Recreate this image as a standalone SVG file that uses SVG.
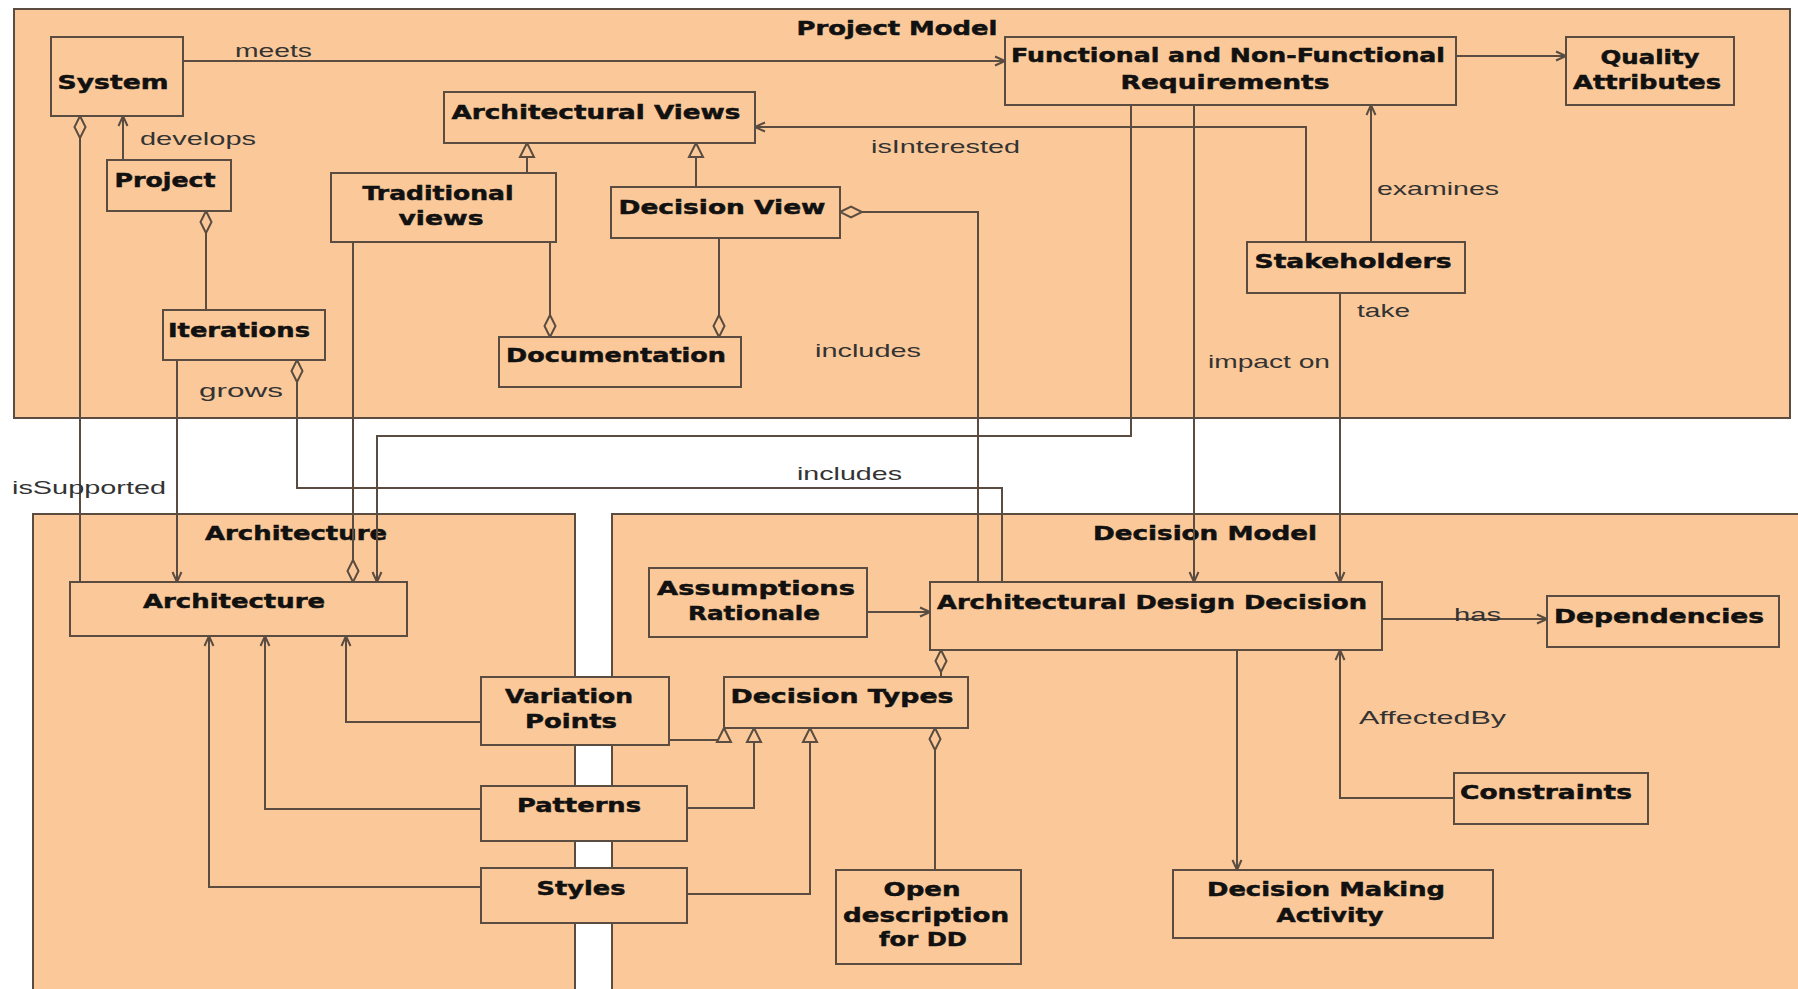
<svg xmlns="http://www.w3.org/2000/svg" width="1798" height="989" viewBox="0 0 1798 989">
  <defs>
    <style>
      .pkg { fill: #fbc999; stroke: #5a4c40; stroke-width: 2; }
      .box { fill: #fbc999; stroke: #5a4c40; stroke-width: 2; }
      .ttl { font-family: "DejaVu Sans", Verdana, sans-serif; font-weight: bold; font-size: 20px; fill: #111; stroke: #111; stroke-width: 0.5; text-anchor: middle; }
      .nm { font-family: "DejaVu Sans", Verdana, sans-serif; font-weight: bold; font-size: 20px; fill: #111; stroke: #111; stroke-width: 0.5; text-anchor: middle; }
      .lbl { font-family: "Liberation Sans", Arial, sans-serif; font-size: 19px; fill: #333; }
      .ln { fill: none; stroke: #5a4c40; stroke-width: 2; }
      .arr { marker-end: url(#open); }
      .agg { marker-start: url(#diamond); }
      .gen { marker-end: url(#tri); }
    </style>
    <marker id="open" markerUnits="userSpaceOnUse" markerWidth="14" markerHeight="14" viewBox="-1 -7 12 14" refX="10" refY="0" orient="auto">
      <path d="M0,-4.5 L10,0 L0,4.5" fill="none" stroke="#5a4c40" stroke-width="2"/>
    </marker>
    <marker id="diamond" markerUnits="userSpaceOnUse" markerWidth="26" markerHeight="14" viewBox="-1 -7 26 14" refX="0" refY="0" orient="auto">
      <path d="M0,0 L11,-5.5 L22,0 L11,5.5 Z" fill="#fbc999" stroke="#5a4c40" stroke-width="2"/>
    </marker>
    <marker id="tri" markerUnits="userSpaceOnUse" markerWidth="18" markerHeight="18" viewBox="-1 -9 17 18" refX="14" refY="0" orient="auto">
      <path d="M0,-7 L14,0 L0,7 Z" fill="#fbc999" stroke="#5a4c40" stroke-width="2"/>
    </marker>
  </defs>

  <rect width="1798" height="989" fill="#ffffff"/>

  <!-- packages -->
  <g id="pkg-project-model">
    <rect class="pkg" x="14" y="9" width="1776" height="409"/>
    <text class="ttl" x="897" y="35" textLength="201" lengthAdjust="spacingAndGlyphs">Project Model</text>
  </g>
  <g id="pkg-architecture">
    <rect class="pkg" x="33" y="514" width="542" height="500"/>
    <text class="ttl" x="296" y="540" textLength="182" lengthAdjust="spacingAndGlyphs">Architecture</text>
  </g>
  <g id="pkg-decision-model">
    <rect class="pkg" x="612" y="514" width="1200" height="500"/>
    <text class="ttl" x="1205" y="540" textLength="224" lengthAdjust="spacingAndGlyphs">Decision Model</text>
  </g>

  <!-- connectors -->
  <g id="connectors">
    <path class="ln arr" d="M183,61 H1005"/>
    <path class="ln arr" d="M1456,56 H1566"/>
    <path class="ln arr" d="M123,160 V116"/>
    <path class="ln agg" d="M80,116 V582"/>
    <path class="ln agg" d="M206,211 V310"/>
    <path class="ln arr" d="M177,360 V582"/>
    <path class="ln agg" d="M297,360 V488 H1002 V582"/>
    <path class="ln gen" d="M527,173 V143"/>
    <path class="ln gen" d="M696,187 V143"/>
    <path class="ln agg" d="M550,337 V242"/>
    <path class="ln agg" d="M719,337 V238"/>
    <path class="ln agg" d="M353,582 V242"/>
    <path class="ln agg" d="M840,212 H978 V582"/>
    <path class="ln arr" d="M1306,242 V127 H755"/>
    <path class="ln arr" d="M1371,242 V105"/>
    <path class="ln arr" d="M1340,293 V582"/>
    <path class="ln arr" d="M1194,105 V582"/>
    <path class="ln arr" d="M1131,105 V436 H377 V582"/>
    <path class="ln arr" d="M481,722 H346 V636"/>
    <path class="ln arr" d="M481,809 H265 V636"/>
    <path class="ln arr" d="M481,887 H209 V636"/>
    <path class="ln gen" d="M669,740 H724 V728"/>
    <path class="ln gen" d="M687,808 H754 V728"/>
    <path class="ln gen" d="M687,894 H810 V728"/>
    <path class="ln agg" d="M941,650 V677"/>
    <path class="ln agg" d="M935,728 V870"/>
    <path class="ln arr" d="M867,612 H930"/>
    <path class="ln arr" d="M1382,619 H1547"/>
    <path class="ln arr" d="M1237,650 V870"/>
    <path class="ln arr" d="M1454,798 H1340 V650"/>

    <text class="lbl" x="235" y="57" textLength="77" lengthAdjust="spacingAndGlyphs">meets</text>
    <text class="lbl" x="140" y="145" textLength="116" lengthAdjust="spacingAndGlyphs">develops</text>
    <text class="lbl" x="12" y="494" textLength="154" lengthAdjust="spacingAndGlyphs">isSupported</text>
    <text class="lbl" x="199" y="397" textLength="84" lengthAdjust="spacingAndGlyphs">grows</text>
    <text class="lbl" x="871" y="153" textLength="149" lengthAdjust="spacingAndGlyphs">isInterested</text>
    <text class="lbl" x="815" y="357" textLength="106" lengthAdjust="spacingAndGlyphs">includes</text>
    <text class="lbl" x="797" y="480" textLength="105" lengthAdjust="spacingAndGlyphs">includes</text>
    <text class="lbl" x="1377" y="195" textLength="122" lengthAdjust="spacingAndGlyphs">examines</text>
    <text class="lbl" x="1357" y="317" textLength="53" lengthAdjust="spacingAndGlyphs">take</text>
    <text class="lbl" x="1208" y="368" textLength="122" lengthAdjust="spacingAndGlyphs">impact on</text>
    <text class="lbl" x="1454" y="621" textLength="47" lengthAdjust="spacingAndGlyphs">has</text>
    <text class="lbl" x="1359" y="724" textLength="147" lengthAdjust="spacingAndGlyphs">AffectedBy</text>
  </g>

  <!-- project model nodes -->
  <g id="system">
    <rect class="box" x="51" y="37" width="132" height="79"/>
    <text class="nm" x="113" y="89" textLength="111" lengthAdjust="spacingAndGlyphs">System</text>
  </g>
  <g id="project">
    <rect class="box" x="107" y="160" width="124" height="51"/>
    <text class="nm" x="165" y="187" textLength="101" lengthAdjust="spacingAndGlyphs">Project</text>
  </g>
  <g id="iterations">
    <rect class="box" x="163" y="310" width="162" height="50"/>
    <text class="nm" x="239" y="337" textLength="142" lengthAdjust="spacingAndGlyphs">Iterations</text>
  </g>
  <g id="architectural-views">
    <rect class="box" x="444" y="92" width="311" height="51"/>
    <text class="nm" x="596" y="119" textLength="289" lengthAdjust="spacingAndGlyphs">Architectural Views</text>
  </g>
  <g id="traditional-views">
    <rect class="box" x="331" y="173" width="225" height="69"/>
    <text class="nm" x="438" y="200" textLength="151" lengthAdjust="spacingAndGlyphs">Traditional</text>
    <text class="nm" x="441" y="225" textLength="85" lengthAdjust="spacingAndGlyphs">views</text>
  </g>
  <g id="decision-view">
    <rect class="box" x="611" y="187" width="229" height="51"/>
    <text class="nm" x="722" y="214" textLength="207" lengthAdjust="spacingAndGlyphs">Decision View</text>
  </g>
  <g id="documentation">
    <rect class="box" x="499" y="337" width="242" height="50"/>
    <text class="nm" x="616" y="362" textLength="220" lengthAdjust="spacingAndGlyphs">Documentation</text>
  </g>
  <g id="requirements">
    <rect class="box" x="1005" y="37" width="451" height="68"/>
    <text class="nm" x="1228" y="62" textLength="434" lengthAdjust="spacingAndGlyphs">Functional and Non-Functional</text>
    <text class="nm" x="1225" y="89" textLength="209" lengthAdjust="spacingAndGlyphs">Requirements</text>
  </g>
  <g id="quality-attributes">
    <rect class="box" x="1566" y="37" width="168" height="68"/>
    <text class="nm" x="1650" y="64" textLength="99" lengthAdjust="spacingAndGlyphs">Quality</text>
    <text class="nm" x="1647" y="89" textLength="148" lengthAdjust="spacingAndGlyphs">Attributes</text>
  </g>
  <g id="stakeholders">
    <rect class="box" x="1247" y="242" width="218" height="51"/>
    <text class="nm" x="1353" y="268" textLength="197" lengthAdjust="spacingAndGlyphs">Stakeholders</text>
  </g>

  <!-- architecture nodes -->
  <g id="architecture">
    <rect class="box" x="70" y="582" width="337" height="54"/>
    <text class="nm" x="234" y="608" textLength="182" lengthAdjust="spacingAndGlyphs">Architecture</text>
  </g>
  <g id="variation-points">
    <rect class="box" x="481" y="677" width="188" height="68"/>
    <text class="nm" x="569" y="703" textLength="128" lengthAdjust="spacingAndGlyphs">Variation</text>
    <text class="nm" x="571" y="728" textLength="92" lengthAdjust="spacingAndGlyphs">Points</text>
  </g>
  <g id="patterns">
    <rect class="box" x="481" y="786" width="206" height="55"/>
    <text class="nm" x="579" y="812" textLength="124" lengthAdjust="spacingAndGlyphs">Patterns</text>
  </g>
  <g id="styles">
    <rect class="box" x="481" y="868" width="206" height="55"/>
    <text class="nm" x="581" y="895" textLength="89" lengthAdjust="spacingAndGlyphs">Styles</text>
  </g>

  <!-- decision model nodes -->
  <g id="assumptions-rationale">
    <rect class="box" x="649" y="568" width="218" height="69"/>
    <text class="nm" x="756" y="595" textLength="198" lengthAdjust="spacingAndGlyphs">Assumptions</text>
    <text class="nm" x="754" y="620" textLength="132" lengthAdjust="spacingAndGlyphs">Rationale</text>
  </g>
  <g id="design-decision">
    <rect class="box" x="930" y="582" width="452" height="68"/>
    <text class="nm" x="1152" y="609" textLength="430" lengthAdjust="spacingAndGlyphs">Architectural Design Decision</text>
  </g>
  <g id="dependencies">
    <rect class="box" x="1547" y="596" width="232" height="51"/>
    <text class="nm" x="1659" y="623" textLength="210" lengthAdjust="spacingAndGlyphs">Dependencies</text>
  </g>
  <g id="decision-types">
    <rect class="box" x="724" y="677" width="244" height="51"/>
    <text class="nm" x="842" y="703" textLength="223" lengthAdjust="spacingAndGlyphs">Decision Types</text>
  </g>
  <g id="open-description">
    <rect class="box" x="836" y="870" width="185" height="94"/>
    <text class="nm" x="922" y="896" textLength="77" lengthAdjust="spacingAndGlyphs">Open</text>
    <text class="nm" x="926" y="922" textLength="166" lengthAdjust="spacingAndGlyphs">description</text>
    <text class="nm" x="923" y="946" textLength="88" lengthAdjust="spacingAndGlyphs">for DD</text>
  </g>
  <g id="constraints">
    <rect class="box" x="1454" y="773" width="194" height="51"/>
    <text class="nm" x="1546" y="799" textLength="172" lengthAdjust="spacingAndGlyphs">Constraints</text>
  </g>
  <g id="decision-making-activity">
    <rect class="box" x="1173" y="870" width="320" height="68"/>
    <text class="nm" x="1326" y="896" textLength="238" lengthAdjust="spacingAndGlyphs">Decision Making</text>
    <text class="nm" x="1330" y="922" textLength="107" lengthAdjust="spacingAndGlyphs">Activity</text>
  </g>
</svg>
